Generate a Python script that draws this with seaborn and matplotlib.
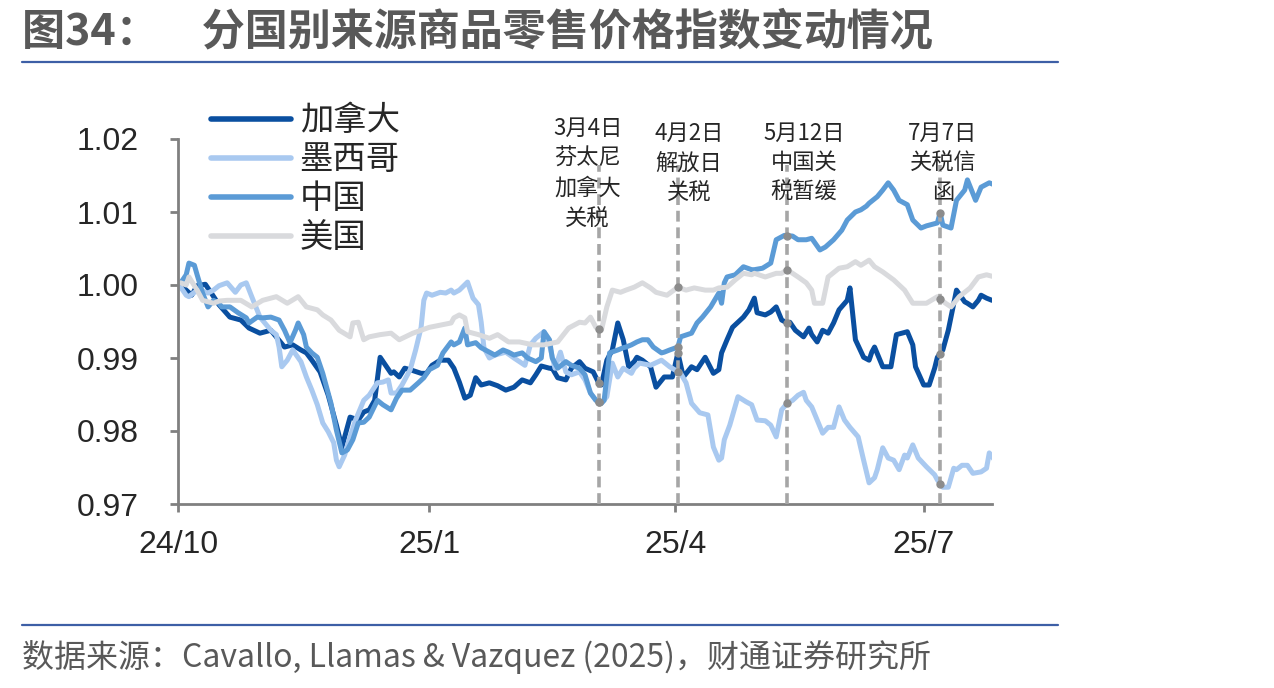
import matplotlib
matplotlib.use("Agg")
import matplotlib.dates as mdates
import matplotlib.pyplot as plt
import matplotlib.transforms as mtransforms
import numpy as np
import pandas as pd
import seaborn as sns

# days counted from 2024-10-01
canada_days = [1, 3, 5, 7, 10, 12, 15, 19, 23, 26, 30, 34, 39, 42, 45, 47, 49, 52, 55, 58,
               60, 63, 66, 68, 70, 72, 74, 76, 78, 79, 81, 83, 85, 89, 91, 93, 96, 99, 101, 103,
               105, 107, 109, 111, 114, 117, 120, 123, 126, 129, 131, 133, 136, 137, 139, 142, 144, 147, 149, 152,
               154, 155, 157, 159, 161, 163, 165, 167, 168, 170, 173, 175, 178, 181, 183, 185, 188, 190, 193, 196,
               198, 199, 201, 203, 207, 209, 211, 212, 215, 217, 219, 221, 223, 224, 226, 229, 231, 232, 234, 236,
               238, 240, 242, 245, 246, 248, 251, 253, 254, 255, 257, 258, 261, 263, 265, 267, 269, 270, 273, 275,
               277, 278, 280, 282, 284, 285, 288, 289, 291, 293, 294, 296, 298]
canada = [1.0000, 0.9993, 0.9986, 0.9999, 1.0001, 0.9990, 0.9973, 0.9956, 0.9952, 0.9941,
          0.9934, 0.9938, 0.9915, 0.9918, 0.9911, 0.9907, 0.9897, 0.9881, 0.9849, 0.9808,
          0.9778, 0.9819, 0.9815, 0.9826, 0.9829, 0.9842, 0.9901, 0.9890, 0.9879, 0.9881,
          0.9874, 0.9886, 0.9884, 0.9879, 0.9879, 0.9890, 0.9897, 0.9897, 0.9886, 0.9867,
          0.9845, 0.9849, 0.9873, 0.9863, 0.9866, 0.9862, 0.9856, 0.9860, 0.9870, 0.9866,
          0.9877, 0.9889, 0.9886, 0.9886, 0.9873, 0.9870, 0.9886, 0.9895, 0.9886, 0.9881,
          0.9866, 0.9863, 0.9897, 0.9911, 0.9948, 0.9925, 0.9888, 0.9895, 0.9901, 0.9897,
          0.9888, 0.9860, 0.9874, 0.9874, 0.9907, 0.9874, 0.9888, 0.9884, 0.9901, 0.9879,
          0.9884, 0.9907, 0.9925, 0.9942, 0.9956, 0.9966, 0.9982, 0.9962, 0.9959, 0.9963,
          0.9970, 0.9952, 0.9948, 0.9949, 0.9938, 0.9929, 0.9941, 0.9932, 0.9922, 0.9938,
          0.9934, 0.9948, 0.9966, 0.9979, 0.9996, 0.9925, 0.9901, 0.9897, 0.9908, 0.9915,
          0.9897, 0.9888, 0.9888, 0.9932, 0.9934, 0.9936, 0.9918, 0.9888, 0.9863, 0.9863,
          0.9886, 0.9901, 0.9911, 0.9938, 0.9975, 0.9993, 0.9977, 0.9975, 0.9970, 0.9979,
          0.9986, 0.9982, 0.9979]

mexico_days = [1, 3, 4, 6, 8, 11, 13, 15, 18, 21, 23, 25, 27, 30, 34, 36, 37, 38, 40, 42,
               45, 47, 49, 51, 53, 55, 57, 58, 59, 61, 63, 65, 68, 70, 73, 75, 77, 78, 80, 82,
               85, 87, 89, 90, 91, 93, 96, 98, 100, 101, 103, 106, 108, 110, 111, 112, 114, 116, 120, 123,
               125, 127, 129, 131, 134, 136, 138, 140, 142, 144, 147, 149, 151, 153, 155, 157, 159, 161, 163, 166,
               167, 169, 173, 177, 180, 184, 186, 188, 191, 194, 196, 198, 199, 200, 202, 205, 208, 210, 212, 215,
               217, 219, 221, 223, 225, 227, 229, 230, 232, 234, 236, 238, 240, 242, 244, 246, 249, 251, 253, 255,
               256, 258, 260, 262, 264, 266, 267, 269, 271, 274, 277, 278, 280, 282, 284, 285, 287, 289, 291, 294,
               296, 297, 299]
mexico = [0.9997, 0.9986, 0.9984, 0.9990, 0.9993, 0.9989, 0.9993, 0.9999, 1.0003, 0.9990,
          1.0000, 1.0003, 0.9984, 0.9956, 0.9938, 0.9932, 0.9915, 0.9888, 0.9897, 0.9911,
          0.9895, 0.9874, 0.9856, 0.9836, 0.9811, 0.9799, 0.9784, 0.9760, 0.9751, 0.9767,
          0.9792, 0.9815, 0.9842, 0.9849, 0.9866, 0.9867, 0.9870, 0.9852, 0.9852, 0.9863,
          0.9884, 0.9911, 0.9942, 0.9979, 0.9989, 0.9986, 0.9990, 0.9989, 0.9993, 0.9989,
          0.9993, 1.0004, 0.9982, 0.9973, 0.9949, 0.9914, 0.9900, 0.9904, 0.9908, 0.9900,
          0.9895, 0.9890, 0.9918, 0.9927, 0.9936, 0.9918, 0.9886, 0.9908, 0.9881, 0.9877,
          0.9881, 0.9870, 0.9852, 0.9842, 0.9838, 0.9847, 0.9893, 0.9874, 0.9886, 0.9879,
          0.9886, 0.9893, 0.9890, 0.9897, 0.9888, 0.9879, 0.9866, 0.9838, 0.9825, 0.9822,
          0.9778, 0.9760, 0.9763, 0.9788, 0.9808, 0.9847, 0.9840, 0.9836, 0.9815, 0.9814,
          0.9808, 0.9792, 0.9829, 0.9838, 0.9842, 0.9849, 0.9853, 0.9842, 0.9833, 0.9815,
          0.9797, 0.9805, 0.9805, 0.9833, 0.9815, 0.9805, 0.9792, 0.9760, 0.9729, 0.9736,
          0.9747, 0.9777, 0.9763, 0.9760, 0.9747, 0.9767, 0.9763, 0.9781, 0.9763, 0.9751,
          0.9740, 0.9733, 0.9723, 0.9723, 0.9749, 0.9747, 0.9753, 0.9753, 0.9742, 0.9744,
          0.9749, 0.9770, 0.9760]

china_days = [1, 3, 4, 6, 7, 9, 11, 13, 15, 16, 19, 22, 25, 26, 29, 31, 34, 37, 39, 41,
              43, 44, 46, 47, 49, 51, 53, 56, 58, 60, 62, 64, 66, 68, 70, 73, 75, 78, 80, 82,
              85, 88, 90, 92, 95, 97, 100, 101, 103, 105, 106, 109, 111, 114, 116, 119, 121, 123, 126, 128,
              131, 133, 134, 136, 137, 139, 142, 144, 147, 149, 151, 153, 155, 156, 158, 161, 163, 164, 166, 168,
              170, 172, 174, 177, 178, 180, 183, 184, 188, 190, 192, 195, 198, 199, 200, 201, 204, 207, 210, 211,
              214, 217, 219, 222, 225, 227, 230, 232, 235, 237, 240, 243, 245, 248, 250, 252, 253, 256, 258, 260,
              262, 264, 267, 269, 272, 274, 275, 278, 279, 280, 283, 285, 288, 289, 292, 294, 297, 299]
china = [1.0003, 1.0014, 1.0030, 1.0027, 1.0014, 0.9989, 0.9970, 0.9979, 0.9975, 0.9970,
         0.9970, 0.9962, 0.9955, 0.9948, 0.9956, 0.9955, 0.9956, 0.9952, 0.9938, 0.9921,
         0.9938, 0.9948, 0.9932, 0.9915, 0.9907, 0.9901, 0.9879, 0.9838, 0.9801, 0.9770,
         0.9774, 0.9788, 0.9811, 0.9812, 0.9819, 0.9842, 0.9836, 0.9829, 0.9845, 0.9856,
         0.9856, 0.9866, 0.9873, 0.9884, 0.9890, 0.9907, 0.9922, 0.9918, 0.9922, 0.9941,
         0.9918, 0.9921, 0.9914, 0.9908, 0.9904, 0.9911, 0.9908, 0.9904, 0.9907, 0.9900,
         0.9895, 0.9900, 0.9936, 0.9925, 0.9900, 0.9886, 0.9895, 0.9890, 0.9886, 0.9877,
         0.9852, 0.9842, 0.9838, 0.9842, 0.9907, 0.9911, 0.9914, 0.9915, 0.9918, 0.9922,
         0.9925, 0.9925, 0.9915, 0.9907, 0.9908, 0.9911, 0.9915, 0.9929, 0.9934, 0.9948,
         0.9956, 0.9970, 0.9989, 0.9975, 1.0003, 1.0011, 1.0014, 1.0025, 1.0021, 1.0021,
         1.0023, 1.0030, 1.0062, 1.0068, 1.0067, 1.0062, 1.0062, 1.0064, 1.0048, 1.0052,
         1.0062, 1.0075, 1.0089, 1.0100, 1.0103, 1.0108, 1.0112, 1.0121, 1.0130, 1.0140,
         1.0130, 1.0116, 1.0110, 1.0089, 1.0078, 1.0081, 1.0082, 1.0085, 1.0099, 1.0082,
         1.0078, 1.0116, 1.0130, 1.0144, 1.0116, 1.0134, 1.0140, 1.0137]

us_days = [1, 3, 4, 7, 9, 13, 15, 18, 23, 27, 31, 36, 40, 44, 47, 51, 53, 56, 59, 63,
           64, 66, 68, 70, 74, 78, 81, 86, 89, 92, 96, 100, 101, 103, 105, 106, 110, 114, 117, 121,
           125, 130, 134, 139, 143, 147, 149, 151, 153, 155, 157, 159, 162, 164, 167, 170, 173, 175, 179, 183,
           186, 189, 193, 196, 198, 201, 204, 207, 210, 211, 215, 219, 221, 223, 227, 230, 232, 233, 236, 238,
           242, 245, 248, 250, 253, 255, 258, 262, 266, 269, 274, 278, 281, 283, 286, 290, 293, 296, 299]
us = [1.0003, 1.0000, 1.0011, 0.9993, 0.9979, 0.9975, 0.9978, 0.9979, 0.9979, 0.9970,
      0.9979, 0.9984, 0.9975, 0.9984, 0.9970, 0.9966, 0.9959, 0.9952, 0.9938, 0.9929,
      0.9948, 0.9949, 0.9925, 0.9929, 0.9932, 0.9934, 0.9925, 0.9934, 0.9938, 0.9942,
      0.9945, 0.9948, 0.9955, 0.9959, 0.9955, 0.9936, 0.9932, 0.9927, 0.9932, 0.9922,
      0.9922, 0.9918, 0.9918, 0.9922, 0.9941, 0.9949, 0.9948, 0.9956, 0.9942, 0.9938,
      0.9970, 0.9993, 0.9990, 0.9993, 0.9997, 1.0003, 0.9996, 0.9990, 0.9986, 0.9997,
      0.9993, 0.9996, 0.9993, 0.9993, 0.9996, 0.9997, 1.0007, 1.0016, 1.0014, 1.0016,
      1.0011, 1.0016, 1.0016, 1.0021, 1.0011, 1.0003, 0.9993, 0.9975, 0.9975, 1.0011,
      1.0023, 1.0025, 1.0032, 1.0027, 1.0034, 1.0025, 1.0018, 1.0007, 0.9993, 0.9975,
      0.9975, 0.9984, 0.9975, 0.9970, 0.9984, 0.9996, 1.0011, 1.0014, 1.0011]

series_names = ["加拿大", "墨西哥", "中国", "美国"]
series_colors = ["#0a4fa0", "#a9c9f0", "#5b9bd6", "#d9dadd"]

event_dates = ["2025-03-04", "2025-04-02", "2025-05-12", "2025-07-07"]
event_labels = ["3月4日\n芬太尼\n加拿大\n关税", "4月2日\n解放日\n关税",
                "5月12日\n中国关\n税暂缓", "7月7日\n关税信\n函"]
event_shift = [(-8, 3), (8, 0), (12, 0), (2, 0)]  # label offsets in points

tick_dates = ["2024-10-01", "2025-01-01", "2025-04-01", "2025-07-01"]
tick_labels = ["24/10", "25/1", "25/4", "25/7"]
y_ticks = [0.97, 0.98, 0.99, 1.00, 1.01, 1.02]

start = pd.Timestamp("2024-10-01")
frames = []
for name, d, v in zip(series_names,
                      [canada_days, mexico_days, china_days, us_days],
                      [canada, mexico, china, us]):
    frames.append(pd.DataFrame({"date": start + pd.to_timedelta(d, unit="D"),
                                "day": d, "value": v, "series": name}))
df = pd.concat(frames, ignore_index=True)

sns.set_style("ticks")
plt.rcParams["font.family"] = ["Liberation Sans", "Noto Sans CJK SC", "DejaVu Sans"]

fig = plt.figure(figsize=(12.74, 6.88), dpi=100)
ax = fig.add_axes([178 / 1274, 1 - 504 / 688, 814 / 1274, 365 / 688])

sns.lineplot(data=df, x="date", y="value", hue="series", hue_order=series_names,
             palette=series_colors, linewidth=3.6, ax=ax, estimator=None, sort=True)
for line in ax.lines:
    line.set_solid_capstyle("round")

cjk = ["Noto Sans CJK SC", "DejaVu Sans"]
trans = mtransforms.blended_transform_factory(ax.transData, ax.transAxes)
for ed, lab, sh in zip(event_dates, event_labels, event_shift):
    t = pd.Timestamp(ed)
    tn = mdates.date2num(t)
    ax.axvline(tn, ymin=0, ymax=0.93, color="#a6a6a6", lw=2.6, ls=(0, (3, 1.6)), zorder=3)
    dd = (t - start).days
    for name in series_names:
        sub = df[df.series == name]
        ax.plot([tn], [np.interp(dd, sub.day, sub.value)], "o", color="#8c8c8c", ms=5, zorder=4)
    ax.annotate(lab, xy=(tn, 1.048), xycoords=trans, xytext=sh, textcoords="offset points",
                ha="center", va="top", fontsize=16, linespacing=1.38, family=cjk, zorder=5)

ax.set_xlim(mdates.date2num(start), mdates.date2num(start + pd.Timedelta(days=298)))
ax.set_ylim(0.97, 1.02)
ax.set_xticks(mdates.date2num(pd.to_datetime(tick_dates)))
ax.set_xticklabels(tick_labels)
ax.set_yticks(y_ticks)
ax.set_yticklabels([f"{v:.2f}" for v in y_ticks])
ax.tick_params(axis="both", labelsize=23, color="#808080", width=2, length=6)
ax.tick_params(axis="y", pad=22)
ax.tick_params(axis="x", pad=13)
ax.set_xlabel("")
ax.set_ylabel("")
sns.despine(ax=ax)
for s in ["left", "bottom"]:
    ax.spines[s].set_color("#808080")
    ax.spines[s].set_linewidth(2)

leg = ax.legend(loc="upper left", bbox_to_anchor=(0.004, 1.18), frameon=False,
                handlelength=2.4, handletextpad=0.25, labelspacing=0.12,
                prop={"family": cjk, "size": 24})
for h in leg.get_lines():
    h.set_linewidth(4)

fig.text(22 / 1274, 1 - 31 / 688, "图34：　分国别来源商品零售价格指数变动情况",
         ha="left", va="center", fontsize=31, fontweight="bold", color="#595959", family=cjk)
fig.add_artist(plt.Line2D([22 / 1274, 1058 / 1274], [1 - 62 / 688] * 2, color="#3d5fa6", lw=1.6))
fig.add_artist(plt.Line2D([22 / 1274, 1058 / 1274], [1 - 625 / 688] * 2, color="#3d5fa6", lw=1.6))
fig.text(22 / 1274, 1 - 657 / 688, "数据来源：Cavallo, Llamas & Vazquez (2025)，财通证券研究所",
         ha="left", va="center", fontsize=23, color="#595959", family=cjk)

fig.savefig("out.png", dpi=100)
